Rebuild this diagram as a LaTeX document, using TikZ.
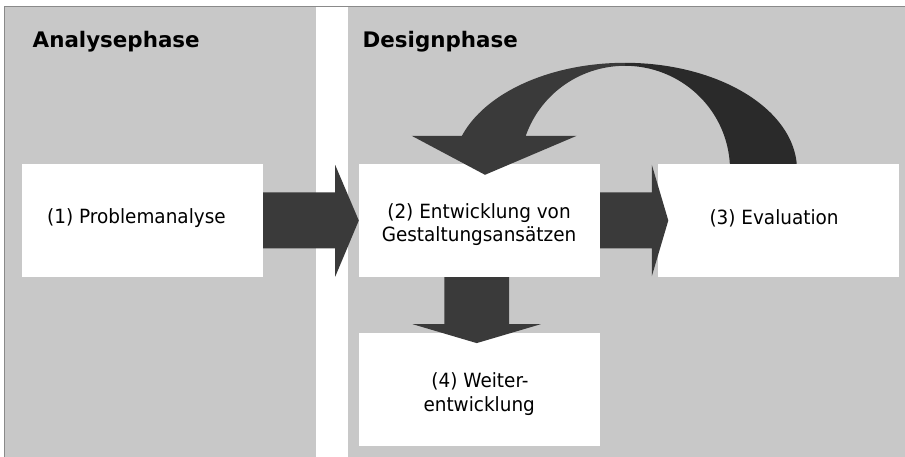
\documentclass[tikz,border=0pt]{standalone}
\usepackage{fontspec}
\setmainfont{DejaVu Sans}[FakeStretch=0.94]
\newfontfamily\headfont{DejaVu Sans}[FakeStretch=1.0]
\usetikzlibrary{calc}
\definecolor{panelgrey}{HTML}{C8C8C8}
\definecolor{framegrey}{HTML}{8A8A8A}
\definecolor{arrowdark}{HTML}{3A3A3A}
\definecolor{arrowback}{HTML}{2A2A2A}
\begin{document}
\begin{tikzpicture}[x=1pt,y=-1pt,
  box/.style={fill=white, draw=none, minimum width=241pt, minimum height=113pt, inner sep=0pt},
  boxtext/.style={inner sep=0pt, font=\fontsize{19.6}{24}\selectfont, text=black},
  heading/.style={inner sep=0pt, font=\headfont\bfseries\fontsize{21.4}{25}\selectfont, text=black},
  blockarrow/.style={fill=arrowdark, draw=none},
  backarrow/.style={fill=arrowback, draw=none}]
\useasboundingbox (0,0) rectangle (905,457);
\fill[white] (0,0) rectangle (905,457);
% phase panels
\fill[panelgrey] (4,7) rectangle (316,457);
\fill[panelgrey] (348,7) rectangle (905,457);
\draw[framegrey, line width=1pt] (4.5,457) -- (4.5,6.5) -- (905,6.5);
% headings
\node[heading, anchor=base west] (h1) at (32.5,47.7) {Analysephase};
\node[heading, anchor=base west] (h2) at (362.5,47.7) {Designphase};
% boxes
\node[box] (b1) at (142.5,220.4) {};
\node[box] (b2) at (479.5,220.5) {};
\node[box] (b3) at (778.4,220.5) {};
\node[box] (b4) at (479.5,389.2) {};
% arrow 1 -> 2
\fill[blockarrow] ($(b1.east)+(0,-28)$) -- ($(b1.east)+(72,-28)$) -- ($(b1.east)+(72,-55.4)$)
  -- (b2.west) -- ($(b1.east)+(72,56.3)$) -- ($(b1.east)+(72,28)$) -- ($(b1.east)+(0,28)$) -- cycle;
% arrow 2 -> 3
\fill[blockarrow] ($(b2.east)+(0,-28)$) -- ($(b2.east)+(51.7,-28)$) -- ($(b2.east)+(51.7,-55.5)$)
  -- ($(b3.west)+(10.6,0)$) -- ($(b2.east)+(51.7,55.5)$) -- ($(b2.east)+(51.7,28)$) -- ($(b2.east)+(0,28)$) -- cycle;
% arrow 2 -> 4
\fill[blockarrow] ($(b2.south)+(-35.2,0)$) -- ($(b2.south)+(-35.2,47)$) -- ($(b2.south)+(-66.8,47)$)
  -- ($(b4.north)+(-2.8,10.6)$) -- ($(b2.south)+(61.2,47)$) -- ($(b2.south)+(29.5,47)$) -- ($(b2.south)+(29.5,0)$) -- cycle;
% curved arrow 3 -> 2
\coordinate (lc) at ($(b2.north)+(145.5,6)$);
\begin{scope}[shift={(lc)}]
  \fill[backarrow] plot[domain=3.2:90, samples=60] ({172*cos(93.2-\x)},{-107*sin(93.2-\x)})
    -- plot[domain=3.3:90, samples=60] ({105*cos(\x)},{-104*sin(\x)}) -- cycle;
  \fill[blockarrow] (-213.3,-34) -- (-140,5) -- (-48.3,-34)
    -- plot[domain=90:160.9, samples=60] ({105*cos(250.9-\x)},{-104*sin(250.9-\x)})
    -- plot[domain=90:161.5, samples=60] ({172*cos(\x)},{-107*sin(\x)}) -- cycle;
\end{scope}
% box texts
\node[boxtext, anchor=base west] (t1) at (47,223.3) {(1) Problemanalyse};
\node[boxtext, anchor=base] (t2a) at (479,218.3) {(2) Entwicklung von};
\node[boxtext, anchor=base] (t2b) at (479,242) {Gestaltungsansätzen};
\node[boxtext, anchor=base west] (t3) at (709.3,224.3) {(3) Evaluation};
\node[boxtext, anchor=base] (t4a) at (480,387.3) {(4) Weiter-};
\node[boxtext, anchor=base] (t4b) at (479.2,411.5) {entwicklung};
\end{tikzpicture}
\end{document}
